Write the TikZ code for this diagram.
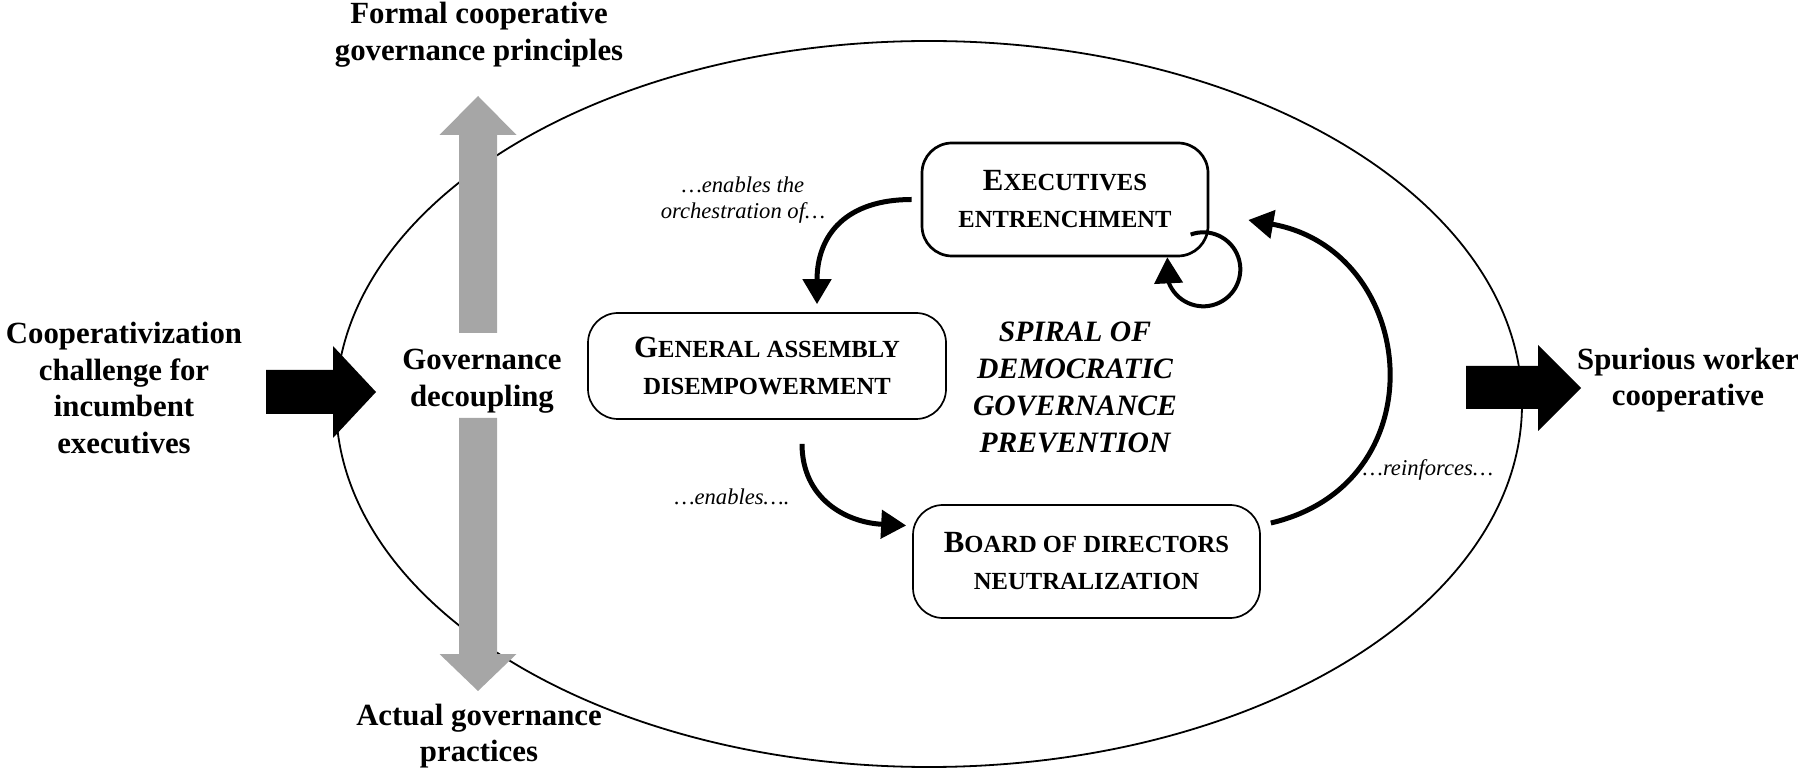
\documentclass[tikz,border=0pt]{standalone}
\usepackage{fontspec}
\setmainfont{Liberation Serif}
\usetikzlibrary{arrows.meta}
\definecolor{arrowgrey}{HTML}{A6A6A6}
\newcommand\smc[1]{{\fontsize{12.3}{12.3}\selectfont #1}}
\begin{document}
\begin{tikzpicture}[x=0.5pt,y=-0.5pt,
  bold/.style={font=\fontsize{15.4}{18.3}\selectfont\bfseries, align=center, inner sep=0},
  lab/.style={font=\fontsize{11.3}{13}\selectfont\itshape, align=center, inner sep=0},
  box/.style={draw, rounded corners=15pt, align=center, font=\fontsize{15.4}{18.5}\selectfont\bfseries, inner sep=0},
  conn/.style={line width=2.5pt, -{Triangle[length=12.5pt,width=14pt]}},
  loopconn/.style={line width=2pt, -{Triangle[length=13pt,width=14pt]}},
  greyarrow/.style={fill=arrowgrey},
  blockarrow/.style={fill=black}]
\useasboundingbox (0,0) rectangle (1798,769);

% outer ellipse
\draw[line width=0.9pt] (929,404) ellipse [x radius=593, y radius=363];

% grey double arrow
\fill[greyarrow] (459,333) -- (459,135) -- (439.5,135) -- (478,96) -- (516.5,135) -- (497,135) -- (497,333) -- cycle;
\fill[greyarrow] (459,418) -- (459,654) -- (439.5,654) -- (478,691) -- (516.5,654) -- (497,654) -- (497,418) -- cycle;

% black block arrows
\fill[blockarrow] (266,370) -- (333,370) -- (333,346) -- (376,392) -- (333,438) -- (333,414) -- (266,414) -- cycle;
\fill[blockarrow] (1466,366) -- (1538,366) -- (1538,345) -- (1581,388) -- (1538,431) -- (1538,409) -- (1466,409) -- cycle;

% outside texts
\node[bold] (formal) at (479,35) {Formal cooperative\\governance principles};
\node[bold] (actual) at (479,736) {Actual governance\\practices};
\node[bold] (coop) at (124,388) {Cooperativization\\challenge for\\incumbent\\executives};
\node[bold] (gd) at (482,381) {Governance\\decoupling};
\node[bold] (spur) at (1688,380) {Spurious worker\\cooperative};

% boxes
\node[box, line width=1.35pt, minimum width=143pt, minimum height=56.5pt] (exec) at (1065,199.5) {E\smc{XECUTIVES}\\\smc{ENTRENCHMENT}};
\node[box, line width=0.85pt, minimum width=179pt, minimum height=53pt] (ga) at (767,366) {G\smc{ENERAL ASSEMBLY}\\\smc{DISEMPOWERMENT}};
\node[box, line width=0.85pt, minimum width=173.5pt, minimum height=56.5pt] (board) at (1086.5,561.5) {B\smc{OARD OF DIRECTORS}\\\smc{NEUTRALIZATION}};

% spiral title
\node[font=\fontsize{14.8}{18.5}\selectfont\bfseries\itshape, align=center, inner sep=0] (spiral) at (1075,387.5) {SPIRAL OF\\DEMOCRATIC\\GOVERNANCE\\PREVENTION};

% labels
\node[lab] (l1) at (743,200) {…enables the\\orchestration of…};
\node[lab] (l2) at (732,497) {…enables….};
\node[lab] (l3) at (1428,470) {…reinforces…};

% connectors
\draw[conn] ([xshift=-4.5pt]exec.west) .. controls +(-65,0) and +(0,-70) .. ([xshift=25pt,yshift=4pt]ga.north);
\draw[conn] ([xshift=17.5pt,yshift=-12pt]ga.south) .. controls +(0,55) and +(-60,-3) .. ([xshift=-3pt,yshift=18pt]board.west);
\draw[conn] ([xshift=5pt,yshift=19.25pt]board.east) .. controls +(170,-40) and +(170,30) .. ([xshift=19.5pt,yshift=-10.25pt]exec.east);
% self-loop on executives entrenchment
\coordinate (loopend) at ([xshift=-21pt,yshift=0pt]exec.south east);
\draw[loopconn] ([xshift=-9.35pt,yshift=11.4pt]exec.south east) arc[start angle=250, end angle=520, radius=37] -- (loopend);
\end{tikzpicture}
\end{document}
